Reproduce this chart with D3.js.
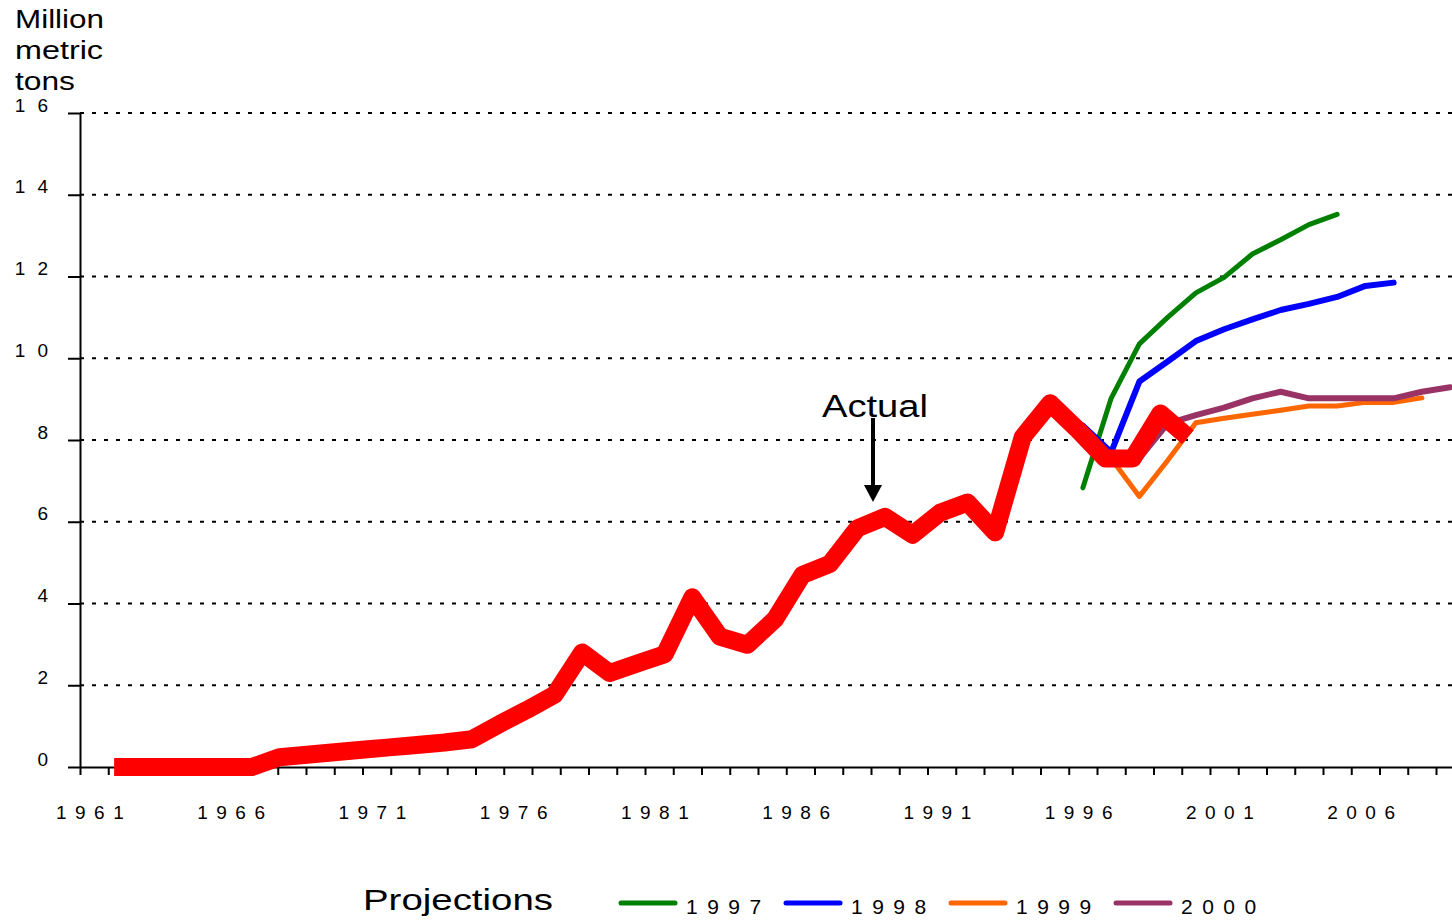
<!DOCTYPE html>
<html>
<head>
<meta charset="utf-8">
<script src="https://cdn.jsdelivr.net/npm/d3@7"></script>
<style>
  html, body { margin: 0; padding: 0; background: #fff; overflow: hidden; }
  svg { display: block; font-family: "Liberation Sans", Arial, sans-serif; }
</style>
</head>
<body>
<svg id="chart" width="1452" height="922"></svg>
<script>
// ---- Data ---------------------------------------------------------------
const years = d3.range(1961, 2011);                       // category axis
const xTickLabels = ["1961", "1966", "1971", "1976", "1981", "1986", "1991", "1996", "2001", "2006"];
const yTickValues = [0, 2, 4, 6, 8, 10, 12, 14, 16];
const yTitleLines = ["Million", "metric", "tons"];

// Actual output, million metric tons
const actualYears = d3.range(1961, 2001);
const actualValues = [
  0, 0, 0, 0, 0, 0, 0.24, 0.30, 0.36, 0.42,
  0.48, 0.54, 0.60, 0.68, 1.05, 1.40, 1.77, 2.80, 2.30, 2.53,
  2.76, 4.15, 3.19, 2.99, 3.61, 4.70, 4.97, 5.84, 6.12, 5.68,
  6.22, 6.47, 5.74, 8.07, 8.90, 8.25, 7.55, 7.55, 8.65, 8.07
];

// Projections made in successive years
const proj1997Years = [1996, 1997, 1998, 1999, 2000, 2001, 2002, 2003, 2004, 2005];
const proj1997 = [6.83, 9.02, 10.35, 11.00, 11.60, 11.98, 12.55, 12.90, 13.27, 13.52];

const proj1998Years = [1996, 1997, 1998, 1999, 2000, 2001, 2002, 2003, 2004, 2005, 2006, 2007];
const proj1998 = [8.35, 7.70, 9.43, 9.92, 10.42, 10.71, 10.95, 11.18, 11.33, 11.50, 11.77, 11.85];

const proj1999Years = [1997, 1998, 1999, 2000, 2001, 2002, 2003, 2004, 2005, 2006, 2007, 2008];
const proj1999 = [7.55, 6.62, 7.50, 8.42, 8.53, 8.63, 8.73, 8.83, 8.83, 8.92, 8.92, 9.03];

const proj2000Years = [1998, 1999, 2000, 2001, 2002, 2003, 2004, 2005, 2006, 2007, 2008, 2009];
const proj2000 = [7.55, 8.40, 8.61, 8.79, 9.02, 9.18, 9.02, 9.02, 9.02, 9.02, 9.18, 9.29];

const legendLabels = ["1997", "1998", "1999", "2000"];
const legendColors = ["#008000", "#0000ff", "#ff6600", "#993366"];

// ---- Layout -------------------------------------------------------------
const svg = d3.select("#chart");
const W = 1452, H = 922;
const plot = { left: 80, top: 113, bottom: 767, bandWidth: 28.25 };
plot.right = plot.left + years.length * plot.bandWidth;

svg.append("rect").attr("width", W).attr("height", H).attr("fill", "#fff");

const x = d3.scaleBand().domain(years).range([plot.left, plot.right]).paddingInner(0).paddingOuter(0);
const xc = yr => x(yr) + x.bandwidth() / 2;
const xEdge = d3.scaleLinear().domain([years[0], years[years.length - 1] + 1]).range([plot.left, plot.right]);
// the actual series sits on its own, slightly inset, year axis
const xActual = d3.scaleLinear()
  .domain([actualYears[0], actualYears[actualYears.length - 1]])
  .range([xc(actualYears[0]) + 20, xc(actualYears[actualYears.length - 1]) - 8]);
const y = d3.scaleLinear().domain([0, 16]).range([plot.bottom, plot.top]);

// ---- Gridlines ----------------------------------------------------------
svg.append("g")
  .selectAll("line")
  .data(yTickValues.filter(v => v > 0))
  .join("line")
  .attr("x1", plot.left).attr("x2", plot.right)
  .attr("y1", d => y(d)).attr("y2", d => y(d))
  .attr("stroke", "#000").attr("stroke-width", 2)
  .attr("stroke-dasharray", "4,8");

// ---- Y axis -------------------------------------------------------------
const yAxis = svg.append("g")
  .attr("transform", `translate(${plot.left},0)`)
  .call(d3.axisLeft(y).tickValues(yTickValues).tickSize(12).tickSizeOuter(0).tickPadding(8)
    .tickFormat(d3.format("d")));
yAxis.select(".domain").attr("stroke", "#000").attr("stroke-width", 2);
yAxis.selectAll(".tick line").attr("stroke", "#000").attr("stroke-width", 2);
yAxis.selectAll(".tick text")
  .attr("dy", -2)
  .attr("fill", "#000")
  .style("font-size", "19px")
  .style("letter-spacing", "12px");

// ---- X axis: boundary ticks + centred year labels -----------------------
const xTicks = svg.append("g")
  .attr("transform", `translate(0,${plot.bottom})`)
  .call(d3.axisBottom(xEdge).tickValues(d3.range(years[0], years[years.length - 1] + 2))
    .tickSize(8).tickSizeOuter(0).tickFormat(""));
xTicks.select(".domain").attr("stroke", "#000").attr("stroke-width", 2);
xTicks.selectAll(".tick line").attr("stroke", "#000").attr("stroke-width", 2);

const xLabels = svg.append("g")
  .attr("transform", `translate(0,${plot.bottom})`)
  .call(d3.axisBottom(x).tickValues(xTickLabels.map(Number)).tickSize(0).tickPadding(0));
xLabels.select(".domain").remove();
xLabels.selectAll(".tick text")
  .attr("y", 52).attr("dy", 0)
  .attr("fill", "#000")
  .style("font-size", "19px")
  .style("letter-spacing", "8.5px");

// ---- Y title ------------------------------------------------------------
const titleWidths = [89, 88, 60];
svg.append("g").selectAll("text")
  .data(yTitleLines)
  .join("text")
  .attr("x", 15)
  .attr("y", (d, i) => 28 + i * 31)
  .attr("textLength", (d, i) => titleWidths[i])
  .attr("lengthAdjust", "spacingAndGlyphs")
  .style("font-size", "26px")
  .attr("fill", "#000")
  .text(d => d);

// ---- Projection lines ---------------------------------------------------
const projLine = d3.line().x(d => xc(d[0])).y(d => y(d[1]));
const projections = [
  { years: proj1997Years, values: proj1997, color: legendColors[0], width: 5 },
  { years: proj1998Years, values: proj1998, color: legendColors[1], width: 6 },
  { years: proj1999Years, values: proj1999, color: legendColors[2], width: 5 },
  { years: proj2000Years, values: proj2000, color: legendColors[3], width: 6 }
];
svg.append("g").selectAll("path")
  .data(projections)
  .join("path")
  .attr("d", s => projLine(d3.zip(s.years, s.values)))
  .attr("fill", "none")
  .attr("stroke", s => s.color)
  .attr("stroke-width", s => s.width)
  .attr("stroke-linejoin", "round")
  .attr("stroke-linecap", "round");

// ---- Actual line --------------------------------------------------------
const actualLine = d3.line().x(d => xActual(d[0])).y(d => y(d[1]));
svg.append("path")
  .attr("d", actualLine(d3.zip(actualYears, actualValues)))
  .attr("fill", "none")
  .attr("stroke", "#ff0000")
  .attr("stroke-width", 18)
  .attr("stroke-linejoin", "round")
  .attr("stroke-linecap", "butt");

// ---- "Actual" annotation -------------------------------------------------
svg.append("text")
  .attr("x", 822).attr("y", 417)
  .attr("textLength", 106).attr("lengthAdjust", "spacingAndGlyphs")
  .style("font-size", "31px")
  .attr("fill", "#000")
  .text("Actual");
svg.append("line")
  .attr("x1", 873).attr("x2", 873).attr("y1", 418).attr("y2", 487)
  .attr("stroke", "#000").attr("stroke-width", 4);
svg.append("path")
  .attr("d", "M864,485 L882,485 L873,502 Z")
  .attr("fill", "#000");

// ---- Legend ---------------------------------------------------------------
svg.append("text")
  .attr("x", 363).attr("y", 910)
  .attr("textLength", 190).attr("lengthAdjust", "spacingAndGlyphs")
  .style("font-size", "30px")
  .attr("fill", "#000")
  .text("Projections");

const legend = svg.append("g").selectAll("g")
  .data(legendLabels)
  .join("g")
  .attr("transform", (d, i) => `translate(${619 + i * 165},903)`);
legend.append("line")
  .attr("x1", 2).attr("x2", 56).attr("y1", 0).attr("y2", 0)
  .attr("stroke", (d, i) => legendColors[i])
  .attr("stroke-width", 5)
  .attr("stroke-linecap", "round");
legend.append("text")
  .attr("x", 67).attr("y", 11)
  .style("font-size", "21px")
  .style("letter-spacing", "9.5px")
  .attr("fill", "#000")
  .text(d => d);
</script>
</body>
</html>
